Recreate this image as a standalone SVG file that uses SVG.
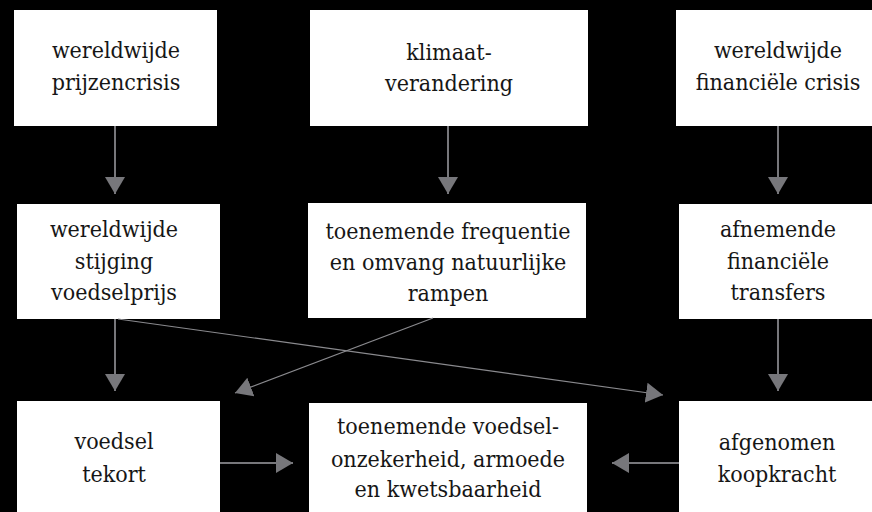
<svg xmlns="http://www.w3.org/2000/svg" width="872" height="512" viewBox="0 0 872 512">
<style>
.box{fill:#ffffff}
.t{font-family:'DejaVu Serif Condensed','DejaVu Serif',serif;font-size:23px;fill:#161616;text-anchor:middle}
.c{stroke:#77777b;fill:none;stroke-width:2}
.d{stroke:#8a8a8e;fill:none;stroke-width:1.2}
</style>
<defs>
<marker id="ah" markerUnits="userSpaceOnUse" markerWidth="18" markerHeight="22" refX="17" refY="10" orient="auto" viewBox="0 0 18 20">
<path d="M0,0 L17,10 L0,20 z" fill="#77777b"/>
</marker>
</defs>
<rect x="0" y="0" width="872" height="512" fill="#000000"/>
<g id="n1"><rect class="box" x="14" y="10" width="203" height="116"/><text class="t" x="116" y="58">wereldwijde</text><text class="t" x="116" y="90">prijzencrisis</text></g>
<g id="n2"><rect class="box" x="310" y="10" width="278" height="116"/><text class="t" x="449" y="60">klimaat-</text><text class="t" x="449" y="91">verandering</text></g>
<g id="n3"><rect class="box" x="676" y="10" width="204" height="116"/><text class="t" x="778" y="58">wereldwijde</text><text class="t" x="778" y="90">financiële crisis</text></g>
<g id="n4"><rect class="box" x="17" y="204" width="203" height="115"/><text class="t" x="114" y="237">wereldwijde</text><text class="t" x="114" y="269">stijging</text><text class="t" x="114" y="300">voedselprijs</text></g>
<g id="n5"><rect class="box" x="308" y="203" width="278" height="115"/><text class="t" x="448" y="239">toenemende frequentie</text><text class="t" x="448" y="270">en omvang natuurlijke</text><text class="t" x="448" y="301">rampen</text></g>
<g id="n6"><rect class="box" x="679" y="204" width="204" height="115"/><text class="t" x="778" y="237">afnemende</text><text class="t" x="778" y="269">financiële</text><text class="t" x="778" y="300">transfers</text></g>
<g id="n7"><rect class="box" x="17" y="401" width="203" height="120"/><text class="t" x="114" y="449">voedsel</text><text class="t" x="114" y="482">tekort</text></g>
<g id="n8"><rect class="box" x="309" y="403" width="278" height="120"/><text class="t" x="448" y="434">toenemende voedsel-</text><text class="t" x="448" y="467">onzekerheid, armoede</text><text class="t" x="448" y="497">en kwetsbaarheid</text></g>
<g id="n9"><rect class="box" x="679" y="401" width="204" height="120"/><text class="t" x="777" y="450">afgenomen</text><text class="t" x="777" y="482">koopkracht</text></g>
<g id="connectors">
<line class="c" x1="115" y1="126" x2="115" y2="194" marker-end="url(#ah)"/>
<line class="c" x1="448" y1="126" x2="448" y2="194" marker-end="url(#ah)"/>
<line class="c" x1="778" y1="126" x2="778" y2="194" marker-end="url(#ah)"/>
<line class="c" x1="115" y1="319" x2="115" y2="391" marker-end="url(#ah)"/>
<line class="c" x1="778" y1="319" x2="778" y2="391" marker-end="url(#ah)"/>
<line class="d" x1="433" y1="318" x2="235" y2="393" marker-end="url(#ah)"/>
<line class="d" x1="118" y1="319" x2="663" y2="395" marker-end="url(#ah)"/>
<line class="c" x1="220" y1="463" x2="293" y2="463" marker-end="url(#ah)"/>
<line class="c" x1="679" y1="463" x2="612" y2="463" marker-end="url(#ah)"/>
</g>
</svg>
